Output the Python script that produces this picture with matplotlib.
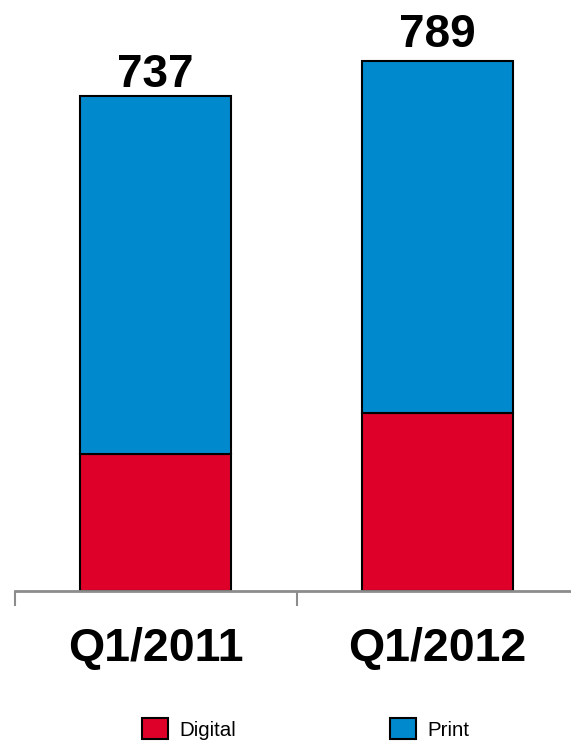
import matplotlib
matplotlib.use("Agg")
import matplotlib.pyplot as plt
from matplotlib.patches import Patch

plt.rcParams['font.family'] = ['Liberation Sans', 'DejaVu Sans']

categories = ["Q1/2011", "Q1/2012"]
digital = [204, 265]
print_vals = [533, 524]
totals = [737, 789]
series_names = ["Digital", "Print"]

RED = "#DF0029"
BLUE = "#0089CD"

W, H = 571, 743
fig = plt.figure(figsize=(W / 100, H / 100), dpi=100)
ax = fig.add_axes([14.5 / W, (H - 591) / H, 564 / W, 537 / H])

x = list(range(len(categories)))
bw = 0.535
ax.bar(x, digital, width=bw, color=RED, edgecolor="black", linewidth=1.5)
ax.bar(x, print_vals, bottom=digital, width=bw, color=BLUE, edgecolor="black", linewidth=1.5)

label_offsets = [7, 10]
for xi, t, off in zip(x, totals, label_offsets):
    ax.annotate(str(t), (xi, t), xytext=(0, off), textcoords="offset points",
                ha="center", va="baseline", fontsize=33, fontweight="bold")

ax.set_xlim(-0.5, 1.5)
ax.set_ylim(0, 800)

for s in ["top", "right", "left"]:
    ax.spines[s].set_visible(False)
ax.spines["bottom"].set_color("#8C8C8C")
ax.spines["bottom"].set_linewidth(2)
ax.spines["bottom"].set_zorder(3)

ax.set_yticks([])
ax.set_xticks(x)
ax.set_xticklabels(categories, fontsize=33.5, fontweight="bold")
ax.tick_params(axis="x", which="major", length=0, pad=26)
ax.set_xticks([-0.5, 0.5, 1.5], minor=True)
ax.tick_params(axis="x", which="minor", length=11, width=1.5, color="#8C8C8C", direction="out")

handles = [Patch(facecolor=RED, edgecolor="black", linewidth=1.5),
           Patch(facecolor=BLUE, edgecolor="black", linewidth=1.5)]
fig.legend(handles, series_names, loc="center left",
           bbox_to_anchor=(142 / W, (H - 729) / H), ncol=2, frameon=False,
           fontsize=14.8, handlelength=1.27, handleheight=1.17,
           handletextpad=0.55, columnspacing=7.5, borderpad=0, borderaxespad=0)

fig.savefig("out.png", dpi=100)
